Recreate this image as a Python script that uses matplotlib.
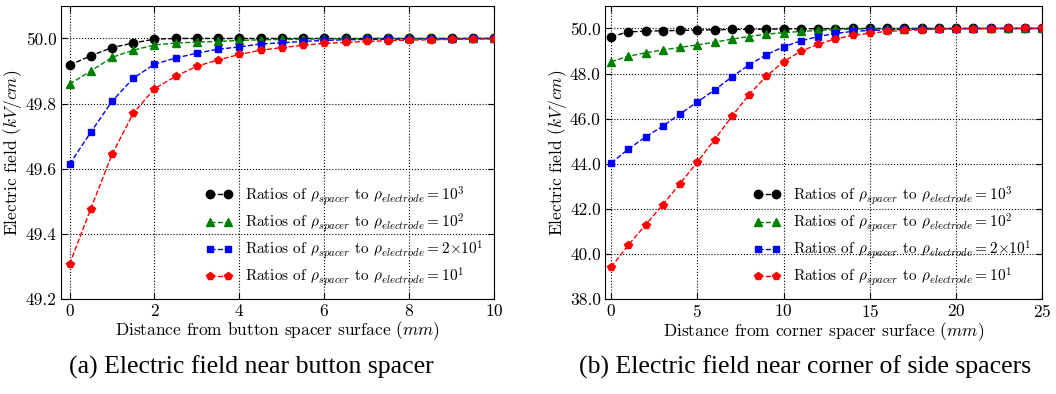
import numpy as np
import matplotlib
matplotlib.use('Agg')
import matplotlib.pyplot as plt

plt.rcParams['font.family'] = ['cmr10', 'DejaVu Serif']
plt.rcParams['mathtext.fontset'] = 'cm'
plt.rcParams['axes.formatter.use_mathtext'] = True
plt.rcParams['font.size'] = 12.5

# (a) button spacer: x step 0.5 mm
x_button = np.arange(0, 10.01, 0.5)
button_1e3 = [49.918, 49.947, 49.972, 49.986, 49.998, 50.0, 50.0, 50.0, 50.0, 50.0,
              50.0, 50.0, 50.0, 50.0, 50.0, 50.0, 50.0, 50.0, 50.0, 50.0, 50.0]
button_1e2 = [49.860, 49.900, 49.942, 49.964, 49.980, 49.986, 49.989, 49.991, 49.994, 49.996,
              49.997, 49.998, 49.999, 49.999, 50.0, 50.0, 50.0, 50.0, 50.0, 50.0, 50.0]
button_2e1 = [49.614, 49.712, 49.807, 49.878, 49.921, 49.940, 49.955, 49.967, 49.974, 49.983,
              49.987, 49.991, 49.994, 49.996, 49.997, 49.998, 49.998, 49.999, 49.999, 50.0, 50.0]
button_1e1 = [49.307, 49.477, 49.644, 49.770, 49.846, 49.884, 49.915, 49.934, 49.951, 49.964,
              49.972, 49.979, 49.985, 49.988, 49.991, 49.993, 49.995, 49.996, 49.997, 49.998, 49.999]

# (b) corner of side spacers: x step 1 mm
x_corner = np.arange(0, 26, 1)
corner_1e3 = [49.63, 49.85, 49.88, 49.90, 49.91, 49.93, 49.94, 49.955, 49.96, 49.97,
              49.98, 49.985, 49.99, 49.995, 50.0, 50.0, 50.0, 50.0, 50.0, 50.0,
              50.0, 50.0, 50.0, 50.0, 50.0, 50.0]
corner_1e2 = [48.52, 48.77, 48.92, 49.05, 49.16, 49.27, 49.39, 49.53, 49.64, 49.75,
              49.81, 49.87, 49.91, 49.955, 49.97, 49.985, 49.99, 49.995, 50.0, 50.0,
              50.0, 50.0, 50.0, 50.0, 50.0, 50.0]
corner_2e1 = [44.03, 44.65, 45.19, 45.67, 46.21, 46.74, 47.27, 47.85, 48.39, 48.83,
              49.19, 49.45, 49.64, 49.78, 49.87, 49.91, 49.94, 49.96, 49.97, 49.985,
              49.99, 49.995, 50.0, 50.0, 50.0, 50.0]
corner_1e1 = [39.41, 40.40, 41.29, 42.19, 43.12, 44.08, 45.07, 46.10, 47.07, 47.88,
              48.53, 48.99, 49.30, 49.54, 49.69, 49.79, 49.87, 49.91, 49.94, 49.97,
              49.985, 49.99, 49.995, 50.0, 50.0, 50.0]

labels = [r'Ratios of $\rho_{spacer}$ to $\rho_{electrode} = 10^3$',
          r'Ratios of $\rho_{spacer}$ to $\rho_{electrode} = 10^2$',
          r'Ratios of $\rho_{spacer}$ to $\rho_{electrode} = 2{\times}10^1$',
          r'Ratios of $\rho_{spacer}$ to $\rho_{electrode} = 10^1$']
colors = ['black', 'green', 'blue', 'red']
markers = ['o', '^', 's', 'p']
msizes = [6, 5.5, 5, 5.5]


def draw_panel(ax, x, series, xlim, ylim, yticks, xticks, xlabel):
    for y, c, m, ms, lab in zip(series, colors, markers, msizes, labels):
        ax.plot(x, y, linestyle='--', color=c, marker=m, markersize=ms,
                markeredgecolor=c, linewidth=1, label=lab, zorder=3)
    ax.set_xlim(*xlim)
    ax.set_ylim(*ylim)
    ax.set_xticks(xticks)
    ax.set_yticks(yticks)
    ax.set_yticklabels(['%.1f' % t for t in yticks])
    ax.grid(True, linestyle=':', color='black', linewidth=0.8)
    ax.tick_params(direction='in', top=True, right=True, length=4, pad=3)
    ax.set_xlabel(xlabel, labelpad=0)
    ax.set_ylabel(r'Electric field ($kV/cm$)', labelpad=1)
    ax.legend(loc='lower right', numpoints=2, frameon=False, fontsize=11,
              handlelength=1.8, handletextpad=0.8, labelspacing=0.3,
              borderaxespad=0.3)


fig = plt.figure(figsize=(10.56, 3.94), dpi=100)
ax1 = fig.add_axes([0.0578, 0.241, 0.4102, 0.744])
ax2 = fig.add_axes([0.573, 0.241, 0.414, 0.744])

draw_panel(ax1, x_button, [button_1e3, button_1e2, button_2e1, button_1e1],
           (-0.2, 10), (49.2, 50.1), [49.2, 49.4, 49.6, 49.8, 50.0],
           [0, 2, 4, 6, 8, 10],
           r'Distance from button spacer surface ($mm$)')
draw_panel(ax2, x_corner, [corner_1e3, corner_1e2, corner_2e1, corner_1e1],
           (-0.35, 25), (38, 51), [38, 40, 42, 44, 46, 48, 50],
           [0, 5, 10, 15, 20, 25],
           r'Distance from corner spacer surface ($mm$)')

fig.text(0.238, 0.068, '(a) Electric field near button spacer',
         family='Liberation Serif', fontsize=18.5, ha='center', va='center')
fig.text(0.762, 0.068, '(b) Electric field near corner of side spacers',
         family='Liberation Serif', fontsize=18.5, ha='center', va='center')

fig.savefig('out.png', dpi=100)
